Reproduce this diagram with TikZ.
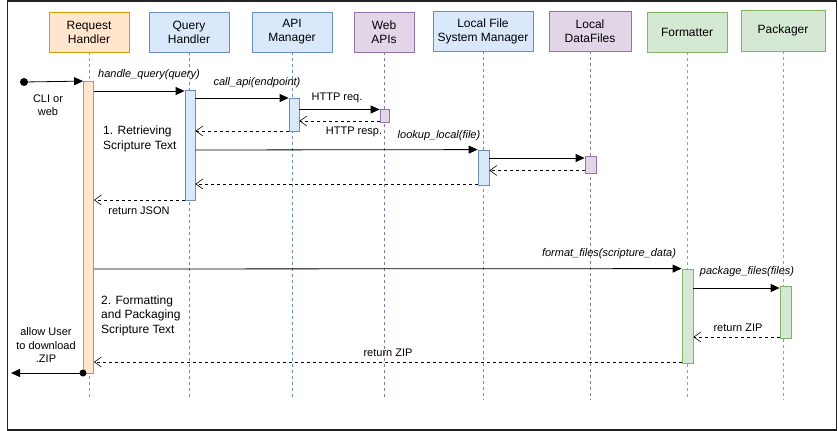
\documentclass[tikz,border=0pt]{standalone}
\usepackage{fontspec}
\setmainfont{Liberation Sans}
\usetikzlibrary{arrows.meta}
\definecolor{orF}{HTML}{FFE6CC}\definecolor{orD}{HTML}{D79B00}
\definecolor{blF}{HTML}{DAE8FC}\definecolor{blD}{HTML}{6C8EBF}
\definecolor{puF}{HTML}{E1D5E7}\definecolor{puD}{HTML}{9673A6}
\definecolor{grF}{HTML}{D5E8D4}\definecolor{grD}{HTML}{82B366}
\definecolor{frameC}{HTML}{222222}
\begin{document}
\begin{tikzpicture}[x=1pt,y=-1pt,
  hdr/.style={draw=#1D,fill=#1F,line width=0.8pt,align=center,inner sep=0pt,font=\fontsize{12}{14}\selectfont},
  bar/.style={draw=#1D,fill=#1F,line width=0.8pt},
  life/.style={draw=#1D,dashed,dash pattern=on 3pt off 3pt,line width=0.6pt},
  msg/.style={-{Triangle[length=9pt,width=8pt]},line width=0.8pt,black},
  ret/.style={-{Straight Barb[length=7pt,width=10pt,line width=0.6pt]},dashed,dash pattern=on 3pt off 3pt,line width=0.8pt,black},
  lbl/.style={font=\fontsize{11}{13}\selectfont,inner sep=0pt,align=center},
  ilbl/.style={font=\fontsize{11}{13}\selectfont\itshape,inner sep=0pt},
  note/.style={font=\fontsize{12}{14.5}\selectfont,inner sep=0pt,align=left,anchor=north west}]
\useasboundingbox (0,0) rectangle (838,431);
\draw[frameC,line width=1.5pt] (7.3,1) rectangle (836.5,430);
% headers
\node[hdr=or,minimum width=80pt,minimum height=40pt] (rh) at (89,32) {Request\\Handler};
\node[hdr=bl,minimum width=80pt,minimum height=40pt] (qh) at (189,32) {Query\\Handler};
\node[hdr=bl,minimum width=80pt,minimum height=40pt] (am) at (292,32) {API\\Manager};
\node[hdr=pu,minimum width=60pt,minimum height=40pt] (wa) at (384,32) {Web\\APIs};
\node[hdr=bl,minimum width=100pt,minimum height=40pt] (lf) at (483,31) {Local File\\System Manager};
\node[hdr=pu,minimum width=82pt,minimum height=40pt] (ld) at (590,31) {Local\\DataFiles};
\node[hdr=gr,minimum width=80pt,minimum height=40pt] (fm) at (687,32) {Formatter};
\node[hdr=gr,minimum width=84pt,minimum height=41pt] (pk) at (783,30.5) {Packager};
% lifelines
\coordinate (rhE) at (89,400); \coordinate (qhE) at (189,400); \coordinate (amE) at (292,400);
\coordinate (waE) at (384,400); \coordinate (lfE) at (483,400); \coordinate (ldE) at (590,400);
\coordinate (fmE) at (687,400); \coordinate (pkE) at (783,400);
\draw[life=or] (rh.south) -- (rhE);
\draw[life=bl] (qh.south) -- (qhE);
\draw[life=bl] (am.south) -- (amE);
\draw[life=pu] (wa.south) -- (waE);
\draw[life=bl] (lf.south) -- (lfE);
\draw[life=pu] (ld.south) -- (ldE);
\draw[life=gr] (fm.south) -- (fmE);
\draw[life=gr] (pk.south) -- (pkE);
% activation bars
\node[bar=or,minimum width=10pt,minimum height=292pt,inner sep=0pt] (rhA) at (88.5,227.5) {};
\node[bar=bl,minimum width=10pt,minimum height=110pt,inner sep=0pt] (qhA) at (190,145) {};
\node[bar=bl,minimum width=10pt,minimum height=33pt,inner sep=0pt] (amA) at (294,114.5) {};
\node[bar=pu,minimum width=9pt,minimum height=13pt,inner sep=0pt] (waA) at (384.5,115.5) {};
\node[bar=bl,minimum width=11pt,minimum height=35pt,inner sep=0pt] (lfA) at (483.5,167.5) {};
\node[bar=pu,minimum width=11pt,minimum height=17pt,inner sep=0pt] (ldA) at (590.5,164.5) {};
\node[bar=gr,minimum width=11pt,minimum height=94pt,inner sep=0pt] (fmA) at (687.5,316) {};
\node[bar=gr,minimum width=11pt,minimum height=52pt,inner sep=0pt] (pkA) at (785.5,312) {};
% start
\fill (24,82) circle (4pt);
\coordinate (st) at (24,82);
\draw[msg] (st) -- (rhA.north west);
\node[lbl] at (48,105.5) {CLI or\\web};
% messages
\draw[msg] (rhA.east |- 0,91) -- (qhA.west |- 0,91);
\node[ilbl] at (149,75) {handle\_query(query)};
\draw[msg] (qhA.east |- 0,98) -- (amA.west |- 0,98);
\node[ilbl] at (257,83) {call\_api(endpoint)};
\draw[msg] (amA.east |- 0,109.5) -- (waA.west |- 0,109.5);
\node[lbl] at (337,98) {HTTP req.};
\draw[ret] (waA.west |- 0,121) -- (amA.east |- 0,121);
\node[lbl] at (354,131.5) {HTTP resp.};
\draw[ret] (amA.west |- 0,131) -- (qhA.east |- 0,131);
\node[note] at (103,126) {1. Retrieving\\Scripture Text};
\draw[msg] (qhA.east |- 0,150) -- (lfA.north west);
\node[ilbl] at (439,136) {lookup\_local(file)};
\draw[msg] (lfA.east |- 0,158) -- (ldA.west |- 0,158);
\draw[ret] (ldA.west |- 0,170.5) -- (lfA.east |- 0,170.5);
\draw[ret] (lfA.west |- 0,184) -- (qhA.east |- 0,184);
\draw[ret] (qhA.west |- 0,200) -- (rhA.east |- 0,200);
\node[lbl] at (139,211) {return JSON};
\draw[msg] (rhA.east |- 0,269) -- (fmA.north west);
\node[ilbl] at (609,254) {format\_files(scripture\_data)};
\draw[msg] (fmA.east |- 0,288) -- (pkA.west |- 0,288);
\node[ilbl] at (747,272) {package\_files(files)};
\draw[ret] (pkA.west |- 0,337) -- (fmA.east |- 0,337);
\node[lbl] at (738,328) {return ZIP};
\draw[ret] (fmA.west |- 0,362) -- (rhA.east |- 0,362);
\node[lbl] at (388,353) {return ZIP};
\node[note] at (101,295.5) {2. Formatting\\and Packaging\\Scripture Text};
% end
\coordinate (en) at (83,373);
\coordinate (out) at (11,373);
\fill (en) circle (3.5pt);
\draw[msg] (en) -- (out);
\node[lbl,font=\fontsize{11}{13.5}\selectfont] at (46,345.5) {allow User\\to download\\.ZIP};
\end{tikzpicture}
\end{document}
